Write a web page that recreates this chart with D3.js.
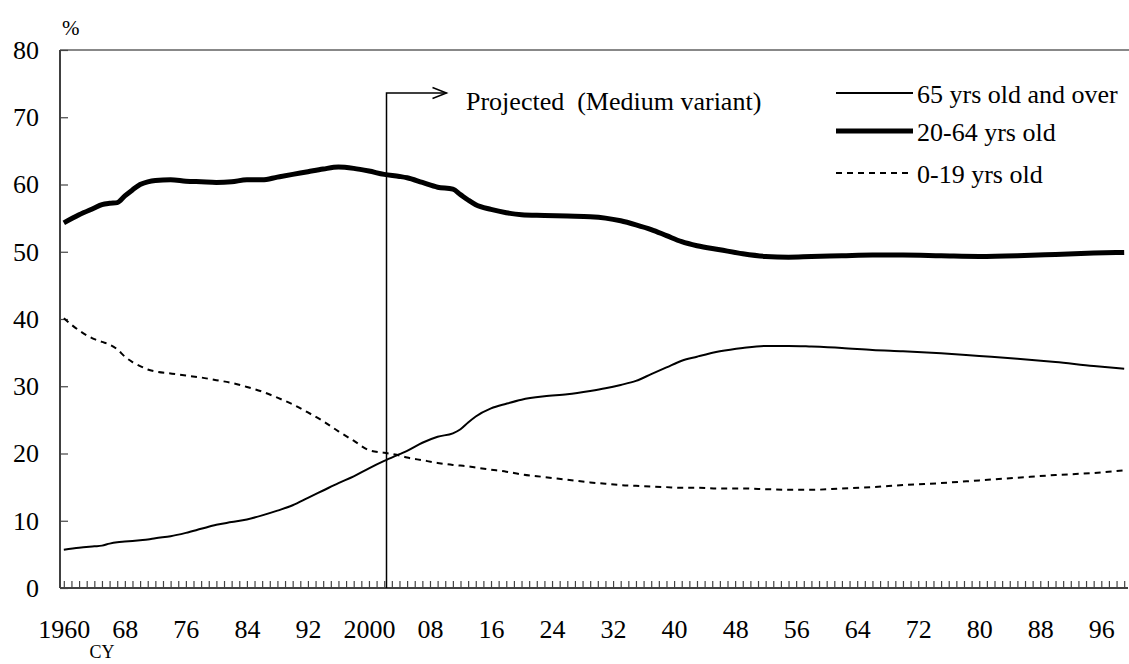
<!DOCTYPE html>
<html>
<head>
<meta charset="utf-8">
<script src="https://cdn.jsdelivr.net/npm/d3@7"></script>
<style>
  html, body { margin: 0; padding: 0; background: #fff; }
  svg { display: block; }
  text { font-family: "Liberation Serif", "Times New Roman", serif; fill: #000; }
</style>
</head>
<body>
<svg id="chart" width="1129" height="664"></svg>
<script>
// ---- data ----
const years = [1960,1962,1964,1965,1966,1967,1968,1969,1970,1971,1972,1974,1976,1978,1980,1982,1984,1986,1988,1990,1992,1994,1996,1998,2000,2002,2004,2005,2007,2009,2011,2012,2013,2014,2016,2018,2020,2023,2026,2029,2031,2033,2035,2037,2039,2041,2043,2046,2049,2052,2055,2058,2062,2066,2070,2075,2080,2085,2090,2095,2099];
const age20to64 = [54.3,55.5,56.5,57.0,57.2,57.3,58.3,59.2,60.0,60.4,60.6,60.7,60.5,60.4,60.3,60.4,60.7,60.7,61.1,61.5,61.9,62.3,62.6,62.4,62.0,61.5,61.2,61.0,60.3,59.6,59.3,58.5,57.7,57.0,56.3,55.8,55.5,55.4,55.3,55.2,55.0,54.6,54.0,53.3,52.4,51.5,50.9,50.3,49.7,49.3,49.2,49.3,49.4,49.5,49.5,49.4,49.3,49.4,49.6,49.8,49.9];
const age65plus = [5.7,6.0,6.2,6.3,6.6,6.8,6.9,7.0,7.1,7.2,7.4,7.7,8.2,8.8,9.4,9.8,10.2,10.8,11.5,12.3,13.4,14.5,15.6,16.6,17.8,18.9,19.9,20.4,21.6,22.5,23.0,23.6,24.6,25.5,26.7,27.4,28.0,28.5,28.8,29.3,29.7,30.2,30.8,31.8,32.8,33.8,34.4,35.2,35.7,36.0,36.0,35.9,35.7,35.4,35.2,34.9,34.5,34.1,33.6,33.0,32.6];
const age0to19 = [40.1,38.3,37.0,36.6,36.2,35.5,34.4,33.6,33.0,32.5,32.2,31.9,31.6,31.3,30.9,30.5,29.9,29.2,28.3,27.3,26.1,24.8,23.3,21.9,20.5,20.1,19.7,19.4,19.0,18.6,18.3,18.2,18.1,17.9,17.6,17.3,16.9,16.5,16.1,15.7,15.5,15.3,15.2,15.1,15.0,14.9,14.9,14.8,14.8,14.7,14.6,14.6,14.8,15.0,15.3,15.6,16.0,16.4,16.8,17.1,17.5];
const seriesNames = ["65 yrs old and over", "20-64 yrs old", "0-19 yrs old"];
const yTicks = [0,10,20,30,40,50,60,70,80];
const xLabelYears = [1960,1968,1976,1984,1992,2000,2008,2016,2024,2032,2040,2048,2056,2064,2072,2080,2088,2096];
const firstYear = 1960, lastYear = 2099;
const projectionYear = 2002.3;
const projectionLabel = "Projected\u00a0\u00a0(Medium variant)";

(function () {
  const svg = d3.select("#chart");
  const pL = 60, pR = 1128, pT = 50, pB = 588;
  const FONT = '"Liberation Serif", "Times New Roman", serif';

  const x = d3.scaleLinear().domain([firstYear - 0.5, lastYear + 0.5]).range([pL, pR]);
  const y = d3.scaleLinear().domain([0, 80]).range([pB, pT]);

  // top border
  svg.append("line").attr("x1", pL).attr("x2", 1129).attr("y1", y(80)).attr("y2", y(80))
    .attr("stroke", "#888").attr("stroke-width", 2);

  // x axis ticks (every year, inward)
  const allYears = d3.range(firstYear, lastYear + 1);
  const xTickAxis = d3.axisBottom(x).tickValues(allYears).tickSize(-7).tickSizeOuter(0).tickFormat("");
  const gx = svg.append("g").attr("transform", `translate(0,${pB})`).call(xTickAxis);
  gx.select(".domain").remove();
  gx.selectAll(".tick line").attr("stroke", "#444").attr("stroke-width", 1.2);

  // x labels
  const fmtYear = d => (d === 1960 || d === 2000) ? String(d) : String(d % 100).padStart(2, "0");
  const xLabelAxis = d3.axisBottom(x).tickValues(xLabelYears).tickSize(0).tickPadding(32).tickFormat(fmtYear);
  const gxl = svg.append("g").attr("transform", `translate(0,${pB})`).call(xLabelAxis);
  gxl.select(".domain").remove();
  gxl.selectAll("text").attr("font-size", 26).style("font-family", FONT).attr("fill", "#000");

  // y axis
  const yAxis = d3.axisLeft(y).tickValues(yTicks).tickSize(-8).tickSizeOuter(0).tickPadding(21).tickFormat(d3.format("d"));
  const gy = svg.append("g").attr("transform", `translate(${pL},0)`).call(yAxis);
  gy.select(".domain").remove();
  gy.selectAll(".tick line").attr("stroke", "#444").attr("stroke-width", 1.2);
  gy.selectAll("text").attr("font-size", 26).style("font-family", FONT).attr("fill", "#000");

  // axis lines
  svg.append("line").attr("x1", pL).attr("x2", pL).attr("y1", pT).attr("y2", pB)
    .attr("stroke", "#404040").attr("stroke-width", 2);
  svg.append("line").attr("x1", pL).attr("x2", pR).attr("y1", pB).attr("y2", pB)
    .attr("stroke", "#404040").attr("stroke-width", 2);

  // units
  svg.append("text").attr("x", 62).attr("y", 35).attr("font-size", 21).text("%");
  svg.append("text").attr("x", x(1965)).attr("y", 658).attr("font-size", 18).attr("text-anchor", "middle").text("CY");

  // series
  const styles = [
    { values: age65plus, width: 2, dash: null },
    { values: age20to64, width: 5, dash: null },
    { values: age0to19, width: 2, dash: "6,5" }
  ];
  const line = d3.line().x(d => x(d[0])).y(d => y(d[1])).curve(d3.curveMonotoneX);
  styles.forEach(s => {
    const pts = years.map((yr, i) => [yr, s.values[i]]);
    svg.append("path").datum(pts).attr("d", line).attr("fill", "none")
      .attr("stroke", "#000").attr("stroke-width", s.width)
      .attr("stroke-dasharray", s.dash).attr("stroke-linejoin", "round");
  });

  // projection marker
  const px = x(projectionYear);
  const py = 93;
  svg.append("path")
    .attr("d", `M${px},${pB} V${py} H${px + 60}`)
    .attr("fill", "none").attr("stroke", "#000").attr("stroke-width", 1.5);
  svg.append("path")
    .attr("d", `M${px + 46},${py - 5.5} L${px + 60},${py} L${px + 46},${py + 5.5}`)
    .attr("fill", "none").attr("stroke", "#000").attr("stroke-width", 1.5);
  svg.append("text").attr("x", 466).attr("y", 110).attr("font-size", 26).text(projectionLabel);

  // legend
  const legY = [93, 131, 173];
  styles.forEach((s, i) => {
    svg.append("line").attr("x1", 836).attr("x2", 913).attr("y1", legY[i]).attr("y2", legY[i])
      .attr("stroke", "#000").attr("stroke-width", s.width).attr("stroke-dasharray", s.dash);
    svg.append("text").attr("x", 917).attr("y", legY[i] + 10).attr("font-size", 26).text(seriesNames[i]);
  });
})();
</script>
</body>
</html>
